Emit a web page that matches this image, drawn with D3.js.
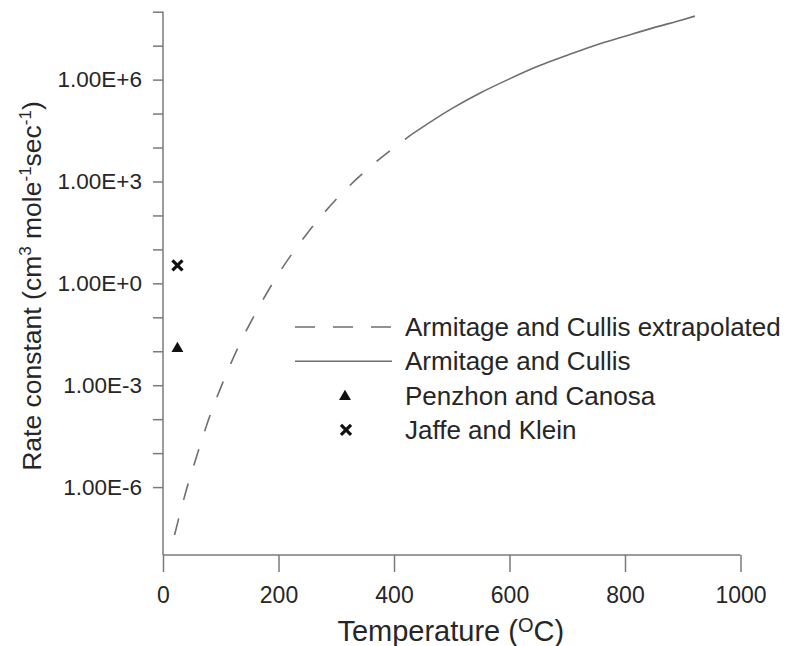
<!DOCTYPE html>
<html>
<head>
<meta charset="utf-8">
<script src="https://cdn.jsdelivr.net/npm/d3@7"></script>
<style>
  body { margin: 0; background: #fff; }
  text { font-family: "Liberation Sans", Arial, sans-serif; fill: #262626; }
</style>
</head>
<body>
<svg id="chart" width="790" height="646"></svg>
<script>
// temperatures (deg C) and rate constants
const extrapTemps = [20, 40, 60, 80, 100, 130, 160, 200, 250, 300, 350, 400, 430];
const extrapRates = [3.9e-8, 7.8e-7, 1.0e-5, 1.1e-4, 8.5e-4, 1.3e-2, 0.13, 1.9, 30, 300, 2.0e3, 1.0e4, 2.4e4];
const measTemps = [430, 500, 550, 600, 650, 700, 750, 800, 850, 900, 921];
const measRates = [2.4e4, 1.4e5, 4.1e5, 1.05e6, 2.5e6, 5.2e6, 1.05e7, 1.9e7, 3.4e7, 5.8e7, 7.4e7];
const penzhonTemp = [25];
const penzhonRate = [0.012];
const jaffeTemp = [25];
const jaffeRate = [3.4];

const xTicks = [0, 200, 400, 600, 800, 1000];
const yTicks = [1e-6, 1e-5, 1e-4, 1e-3, 1e-2, 1e-1, 1e0, 1e1, 1e2, 1e3, 1e4, 1e5, 1e6, 1e7, 1e8];
const yLabelled = [1e-6, 1e-3, 1e0, 1e3, 1e6];
const legendNames = ["Armitage and Cullis extrapolated", "Armitage and Cullis", "Penzhon and Canosa", "Jaffe and Klein"];

const plotLeft = 163, plotRight = 740.5, plotTop = 11.7, plotBottom = 555;
const lineColor = "#6e6e6e";

const svg = d3.select("#chart");

const x = d3.scaleLinear().domain([0, 1000]).range([plotLeft, plotRight]);
const y = d3.scaleLog().domain([1e-8, 1e8]).range([plotBottom, plotTop]);

function fmtExp(v) {
    const e = Math.round(Math.log10(v));
    return "1.00E" + (e >= 0 ? "+" : "-") + Math.abs(e);
}

// x axis
const xAxis = svg.append("g")
    .attr("transform", "translate(0," + plotBottom + ")")
    .call(d3.axisBottom(x).tickValues(xTicks).tickSize(17).tickPadding(15).tickFormat(d3.format("d")));
xAxis.select(".domain").attr("d", "M" + plotLeft + ",0H" + plotRight);
xAxis.selectAll("path, line").attr("stroke", "#7a7a7a").attr("stroke-width", 1.5);
xAxis.selectAll("text").attr("font-size", 23).style("font-family", "Liberation Sans, Arial, sans-serif").attr("fill", "#262626");

// y axis
const yAxis = svg.append("g")
    .attr("transform", "translate(" + plotLeft + ",0)")
    .call(d3.axisLeft(y).tickValues(yTicks).tickSize(10).tickPadding(11)
        .tickFormat(d => yLabelled.some(v => Math.abs(Math.log10(v) - Math.log10(d)) < 1e-6) ? fmtExp(d) : ""));
yAxis.select(".domain").attr("d", "M0," + plotBottom + "V" + plotTop);
yAxis.selectAll("path, line").attr("stroke", "#7a7a7a").attr("stroke-width", 1.5);
yAxis.selectAll("text").attr("font-size", 22.5).style("font-family", "Liberation Sans, Arial, sans-serif").attr("fill", "#262626");

// axis titles
const xTitle = svg.append("text")
    .attr("x", (plotLeft + plotRight) / 2 - 1)
    .attr("y", 641)
    .attr("text-anchor", "middle")
    .attr("font-size", 29);
xTitle.append("tspan").text("Temperature (");
xTitle.append("tspan").attr("font-size", 20).attr("dy", -9).text("O");
xTitle.append("tspan").attr("dy", 9).text("C)");

const yTitle = svg.append("text")
    .attr("transform", "translate(41,286) rotate(-90)")
    .attr("text-anchor", "middle")
    .attr("font-size", 26.5);
yTitle.append("tspan").text("Rate constant (cm");
yTitle.append("tspan").attr("font-size", 17).attr("dy", -10).text("3");
yTitle.append("tspan").attr("dy", 10).text(" mole");
yTitle.append("tspan").attr("font-size", 17).attr("dy", -10).text("-1");
yTitle.append("tspan").attr("dy", 10).text("sec");
yTitle.append("tspan").attr("font-size", 17).attr("dy", -10).text("-1");
yTitle.append("tspan").attr("dy", 10).text(")");

// curves
const line = d3.line()
    .x(d => x(d[0]))
    .y(d => y(d[1]))
    .curve(d3.curveMonotoneX);

svg.append("path")
    .datum(d3.zip(extrapTemps, extrapRates))
    .attr("d", line)
    .attr("fill", "none")
    .attr("stroke", lineColor)
    .attr("stroke-width", 1.6)
    .attr("stroke-dasharray", "17,19");

svg.append("path")
    .datum(d3.zip(measTemps, measRates))
    .attr("d", line)
    .attr("fill", "none")
    .attr("stroke", lineColor)
    .attr("stroke-width", 1.6);

// points
const triangle = d3.symbol().type(d3.symbolTriangle).size(62);
const cross = d3.symbol().type(d3.symbolX).size(68);

svg.selectAll("path.penzhon")
    .data(d3.zip(penzhonTemp, penzhonRate))
    .enter().append("path")
    .attr("class", "penzhon")
    .attr("d", triangle)
    .attr("transform", d => "translate(" + x(d[0]) + "," + y(d[1]) + ")")
    .attr("fill", "#111");

svg.selectAll("path.jaffe")
    .data(d3.zip(jaffeTemp, jaffeRate))
    .enter().append("path")
    .attr("class", "jaffe")
    .attr("d", cross)
    .attr("transform", d => "translate(" + x(d[0]) + "," + y(d[1]) + ")")
    .attr("fill", "none")
    .attr("stroke", "#111")
    .attr("stroke-width", 3.2);

// legend
const legend = svg.append("g")
    .attr("transform", "translate(295,327)")
    .selectAll("g")
    .data(legendNames)
    .enter().append("g")
    .attr("transform", (d, i) => "translate(0," + i * 34.3 + ")");

legend.each(function(d, i) {
    const g = d3.select(this);
    if (i === 0) {
        g.append("line").attr("x1", 0).attr("x2", 97).attr("stroke", lineColor)
            .attr("stroke-width", 1.6).attr("stroke-dasharray", "20,18");
    } else if (i === 1) {
        g.append("line").attr("x1", 0).attr("x2", 97).attr("stroke", lineColor).attr("stroke-width", 1.6);
    } else if (i === 2) {
        g.append("path").attr("d", triangle).attr("transform", "translate(50,1)").attr("fill", "#111");
    } else {
        g.append("path").attr("d", cross).attr("transform", "translate(51,0)")
            .attr("fill", "none").attr("stroke", "#111").attr("stroke-width", 3.2);
    }
});

legend.append("text")
    .attr("x", 110)
    .attr("y", 0)
    .attr("dy", "0.35em")
    .attr("font-size", 26)
    .text(d => d);
</script>
</body>
</html>
